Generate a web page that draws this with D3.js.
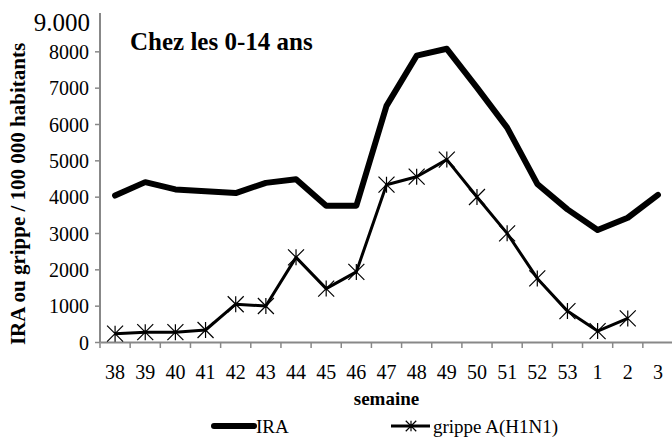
<!DOCTYPE html>
<html>
<head>
<meta charset="utf-8">
<script src="https://cdn.jsdelivr.net/npm/d3@7"></script>
</head>
<body style="margin:0">
<svg id="Viz" width="672" height="438"></svg>
<script>
// semaines 38 (2009) -> 3 (2010)
let semaines = ["38","39","40","41","42","43","44","45","46","47","48","49","50","51","52","53","1","2","3"];
let ira = [4030,4400,4200,4150,4100,4380,4480,3750,3750,6500,7880,8070,7000,5900,4350,3650,3080,3420,4050];
let grippe = [230,270,270,330,1040,990,2330,1470,1930,4330,4550,5020,3990,2990,1750,850,300,650];
let yTicks = [0,1000,2000,3000,4000,5000,6000,7000,8000];

let police = "'Liberation Serif'";
let margin = {top: 15, right: 0, bottom: 96, left: 100};

let vizArea = d3.select('#Viz');

let xScale = d3.scaleBand().domain(semaines).range([margin.left, 673]).padding(0);
let yScale = d3.scaleLinear().domain([0, 9000]).range([342, margin.top]);

// marker: x plus vertical stroke, like Excel's star
let starType = {
  draw(ctx, size) {
    let r = Math.sqrt(size) / 2;
    ctx.moveTo(-r, -r); ctx.lineTo(r, r);
    ctx.moveTo(-r, r); ctx.lineTo(r, -r);
    ctx.moveTo(0, -r); ctx.lineTo(0, r);
  }
};

// y axis
let yAxis = vizArea.append('g')
  .attr("transform", "translate(" + margin.left + ",0)")
  .call(d3.axisLeft(yScale).tickValues(yTicks).tickFormat(d3.format("d"))
    .tickSize(5).tickSizeOuter(0).tickPadding(6));
yAxis.select(".domain").attr("stroke", "#888").attr("stroke-width", 2)
  .attr("d", "M0," + yScale(0) + "V" + (yScale(9000) - 2));
yAxis.selectAll(".tick line").attr("stroke", "#888").attr("stroke-width", 1.5);
yAxis.selectAll(".tick text")
  .style("font-family", police)
  .style("font-size", "20px")
  .attr("dy", "0.35em");

// top label
vizArea.append("text")
  .attr("x", margin.left - 10)
  .attr("y", yScale(9000) + 16)
  .attr("text-anchor", "end")
  .style("font-family", police)
  .style("font-size", "25px")
  .text("9.000");

// x axis
let xAxis = vizArea.append('g')
  .attr("transform", "translate(0," + yScale(0) + ")")
  .call(d3.axisBottom(xScale).tickSize(0).tickPadding(23));
xAxis.select(".domain").attr("stroke", "#888").attr("stroke-width", 2);
xAxis.selectAll(".tick text")
  .style("font-family", police)
  .style("font-size", "20px");

// ticks between categories
vizArea.append("g")
  .selectAll("line")
  .data(semaines)
  .enter()
  .append("line")
  .attr("x1", d => xScale(d))
  .attr("x2", d => xScale(d))
  .attr("y1", yScale(0))
  .attr("y2", yScale(0) + 6)
  .attr("stroke", "#888")
  .attr("stroke-width", 1.5);

// titles
vizArea.append("text")
  .attr("x", 130).attr("y", 50)
  .style("font-family", police)
  .style("font-size", "25px").style("font-weight", "bold")
  .text("Chez les 0-14 ans");

vizArea.append("text")
  .attr("transform", "translate(25,194) rotate(-90)")
  .attr("text-anchor", "middle")
  .style("font-family", police)
  .style("font-size", "21px").style("font-weight", "bold")
  .text("IRA ou grippe / 100 000 habitants");

vizArea.append("text")
  .attr("x", (margin.left + 673) / 2).attr("y", 405)
  .attr("text-anchor", "middle")
  .style("font-family", police)
  .style("font-size", "19px").style("font-weight", "bold")
  .text("semaine");

let cx = d => xScale(d) + xScale.bandwidth() / 2;

let drawline = d3.line()
  .x((d, i) => cx(semaines[i]))
  .y(d => yScale(d));

// IRA
vizArea.append("path")
  .datum(ira)
  .attr("fill", "none")
  .attr("stroke", "#000")
  .attr("stroke-width", 6)
  .attr("stroke-linejoin", "round")
  .attr("stroke-linecap", "round")
  .attr("d", drawline);

// grippe A(H1N1)
vizArea.append("path")
  .datum(grippe)
  .attr("fill", "none")
  .attr("stroke", "#000")
  .attr("stroke-width", 3)
  .attr("stroke-linejoin", "round")
  .attr("d", drawline);

vizArea.append("g")
  .selectAll("path")
  .data(grippe)
  .enter()
  .append("path")
  .attr("transform", (d, i) => "translate(" + cx(semaines[i]) + "," + yScale(d) + ")")
  .attr("d", d3.symbol().type(starType).size(256))
  .attr("fill", "none")
  .attr("stroke", "#000")
  .attr("stroke-width", 1.2);

// legend
let leg = vizArea.append("g");
leg.append("line").attr("x1", 214).attr("x2", 254).attr("y1", 426).attr("y2", 426)
  .attr("stroke", "#000").attr("stroke-width", 6).attr("stroke-linecap", "round");
leg.append("text").attr("x", 256).attr("y", 433)
  .style("font-family", police).style("font-size", "19px").text("IRA");
leg.append("line").attr("x1", 391).attr("x2", 430).attr("y1", 426).attr("y2", 426)
  .attr("stroke", "#000").attr("stroke-width", 3);
leg.append("path")
  .attr("transform", "translate(411,426)")
  .attr("d", d3.symbol().type(starType).size(110))
  .attr("fill", "none").attr("stroke", "#000").attr("stroke-width", 1.2);
leg.append("text").attr("x", 433).attr("y", 433)
  .style("font-family", police).style("font-size", "19px").text("grippe A(H1N1)");
</script>
</body>
</html>
